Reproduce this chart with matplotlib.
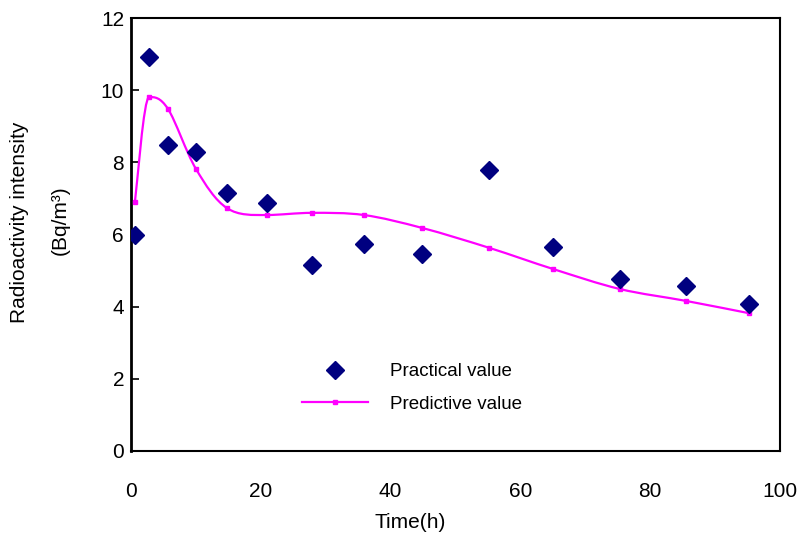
import matplotlib
matplotlib.use("Agg")
import matplotlib.pyplot as plt
from matplotlib.path import Path
from matplotlib.patches import PathPatch
from matplotlib.lines import Line2D
import numpy as np

plt.rcParams['font.family'] = ['Liberation Sans', 'DejaVu Sans']

# ---- data ----
time_h = [0.6, 2.8, 5.7, 10.0, 14.8, 20.9, 27.9, 35.9, 44.9, 55.2, 65.1, 75.3, 85.5, 95.2]
practical = [6.0, 10.92, 8.48, 8.29, 7.15, 6.87, 5.16, 5.74, 5.45, 7.79, 5.65, 4.77, 4.57, 4.07]
predictive = [6.90, 9.81, 9.48, 7.82, 6.73, 6.54, 6.60, 6.54, 6.18, 5.63, 5.04, 4.49, 4.16, 3.82]
x_ticks = [0, 20, 40, 60, 80, 100]
y_ticks = [0, 2, 4, 6, 8, 10, 12]
legend_labels = ["Practical value", "Predictive value"]

W, H = 804, 534
fig = plt.figure(figsize=(W / 100, H / 100), dpi=100)
ax = fig.add_axes([131 / W, (H - 451) / H, (780 - 131) / W, (451 - 18) / H])

navy = "#000080"
magenta = "#FF00FF"

# smoothed predictive curve (Bezier through the points, flat at local extrema)
xs = np.array(time_h, dtype=float)
ys = np.array(predictive, dtype=float)
pts = np.column_stack([xs, ys])
n = len(pts)
tang = []
for i in range(n):
    p0 = pts[i - 1] if i > 0 else pts[i]
    p2 = pts[i + 1] if i + 1 < n else pts[i]
    t = (p2 - p0) / 6.0
    if 0 < i < n - 1:
        d1 = pts[i][1] - pts[i - 1][1]
        d2 = pts[i + 1][1] - pts[i][1]
        if d1 * d2 < 0:
            t = np.array([t[0], 0.0])
    tang.append(t)
verts = [tuple(pts[0])]
codes = [Path.MOVETO]
for i in range(n - 1):
    c1 = pts[i] + tang[i]
    c2 = pts[i + 1] - tang[i + 1]
    verts += [tuple(c1), tuple(c2), tuple(pts[i + 1])]
    codes += [Path.CURVE4] * 3
patch = PathPatch(Path(verts, codes), facecolor="none", edgecolor=magenta,
                  lw=1.6, transform=ax.transData, zorder=3)
ax.add_patch(patch)
ax.plot(time_h, predictive, linestyle="none", marker="s", ms=2.6,
        color=magenta, zorder=4)

ax.plot(time_h, practical, linestyle="none", marker="D", ms=9.5,
        color=navy, markeredgecolor=navy, zorder=5)

ax.set_xlim(0, 100)
ax.set_ylim(0, 12)
ax.set_xticks(x_ticks)
ax.set_yticks(y_ticks)
ax.tick_params(axis="x", length=0, pad=22, labelsize=15)
ax.tick_params(axis="y", direction="in", length=6, width=1.2, pad=5, labelsize=15)
for s in ax.spines.values():
    s.set_linewidth(1.5)
    s.set_color("black")
ax.spines["left"].set_linewidth(2.0)

fig.text(20 / W, 1 - 222 / H, "Radioactivity intensity", rotation=90,
         ha="center", va="center", fontsize=15)
fig.text(60 / W, 1 - 220 / H, "(Bq/m³)", rotation=90,
         ha="center", va="center", fontsize=15)
fig.text(410 / W, 1 - 522 / H, "Time(h)", ha="center", va="center", fontsize=15)

h1 = Line2D([], [], linestyle="none", marker="D", ms=9.5, color=navy)
h2 = Line2D([], [], color=magenta, lw=1.6, marker="s", ms=2.6)
ax.legend([h1, h2], legend_labels, loc="upper left",
          bbox_to_anchor=(302 / W, 1 - 363 / H), bbox_transform=fig.transFigure,
          frameon=False, fontsize=13.5, handlelength=3.5, handletextpad=1.2,
          labelspacing=0.82, borderpad=0, borderaxespad=0)

fig.savefig("out.png", dpi=100)
